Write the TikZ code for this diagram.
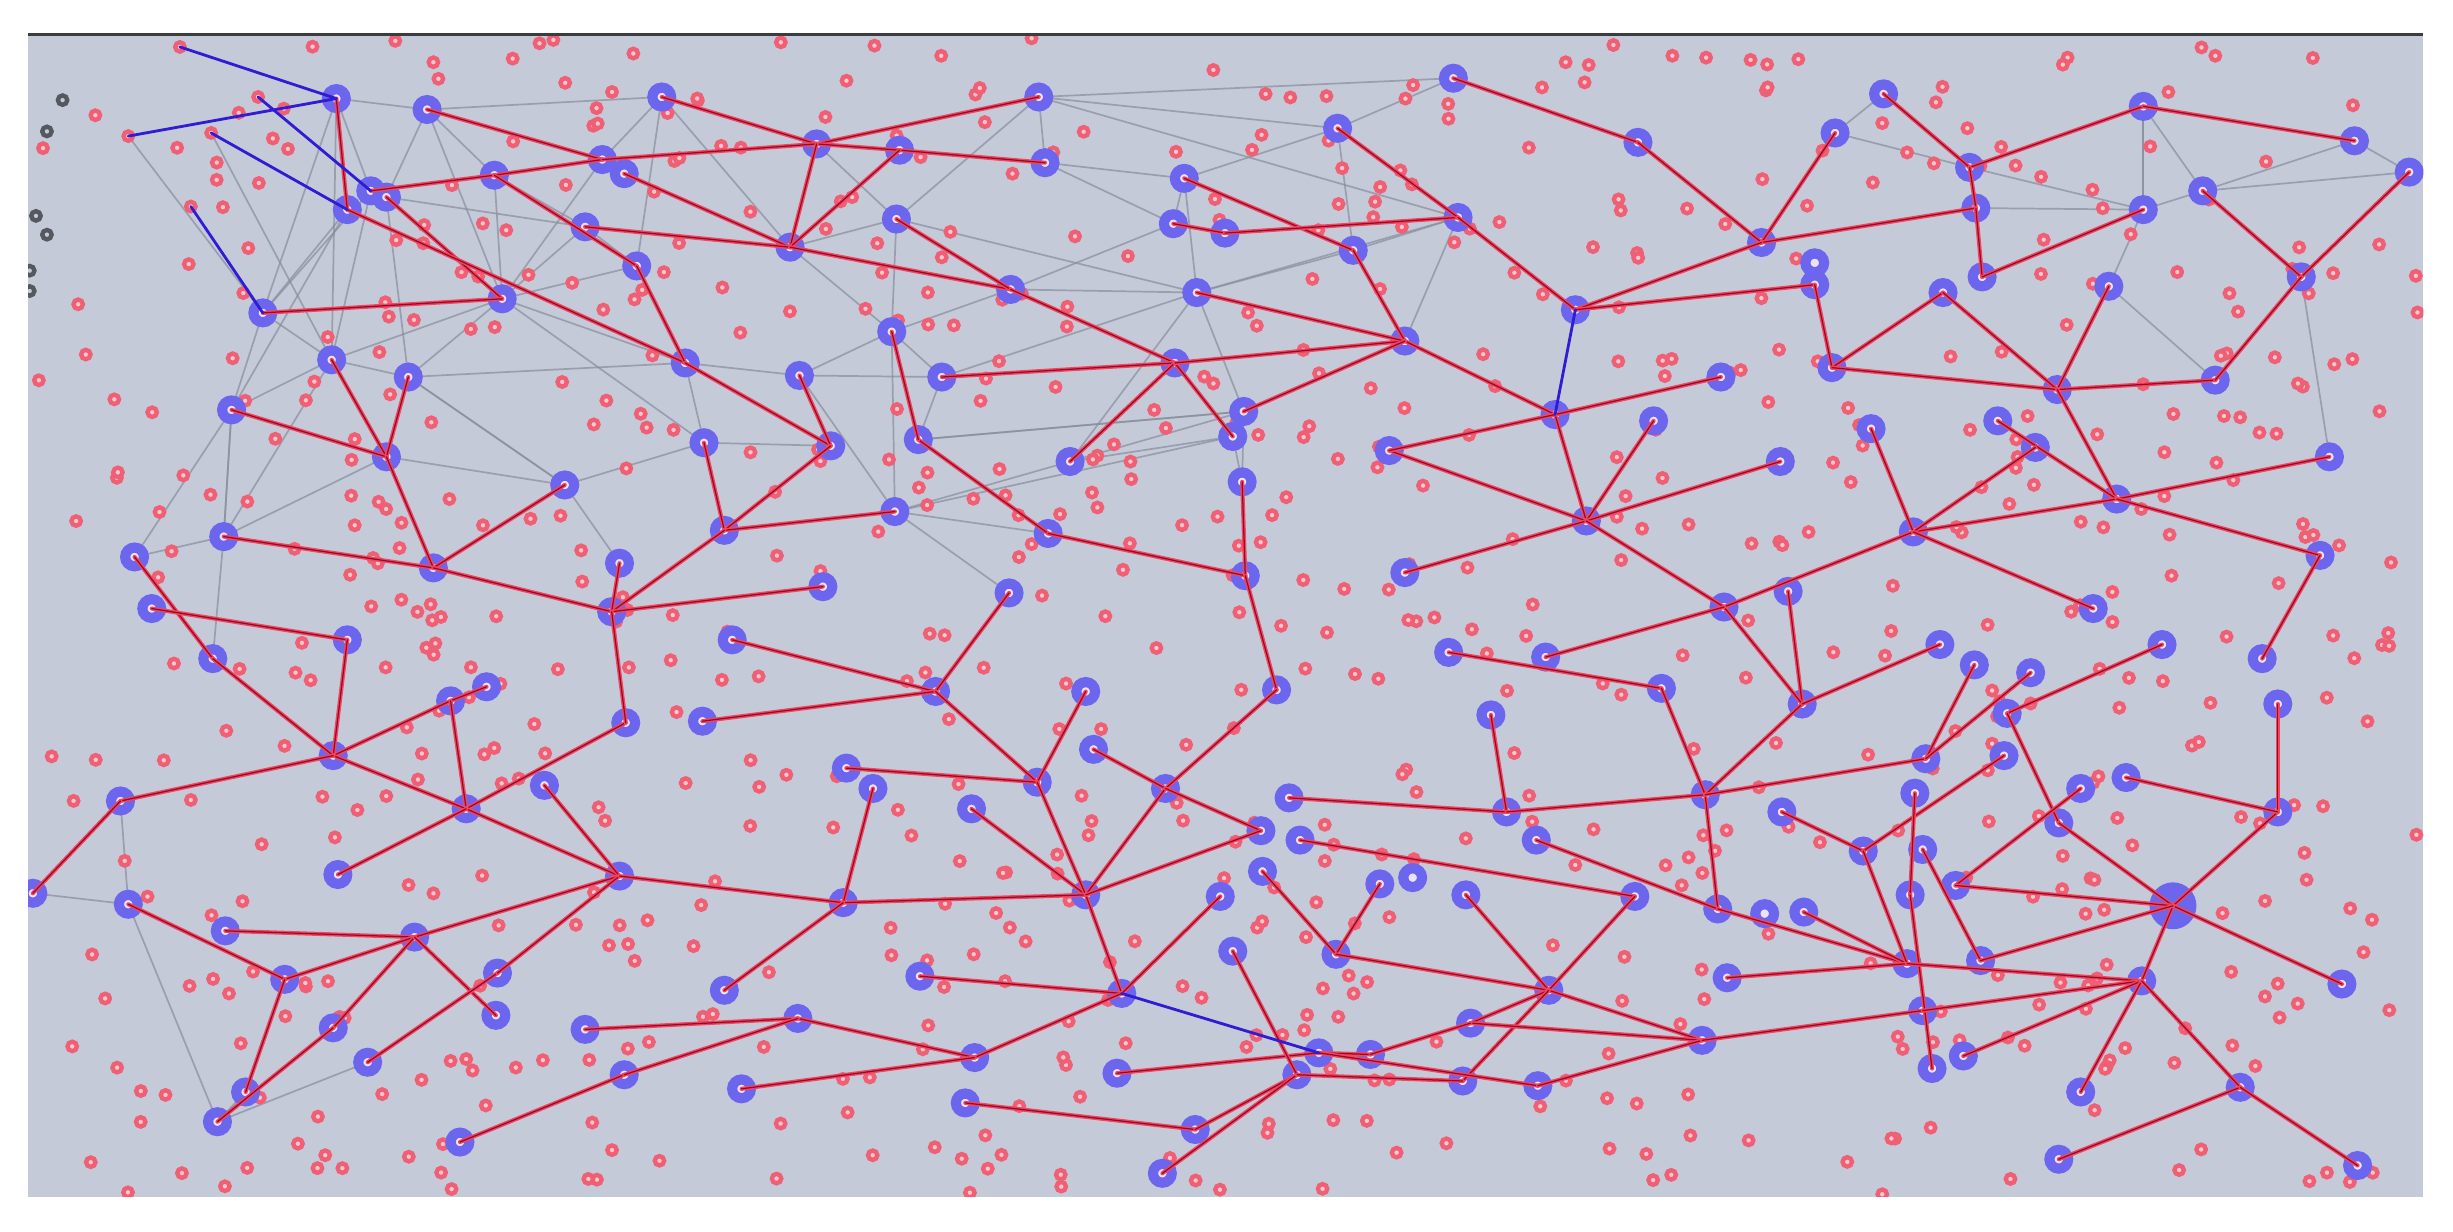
\documentclass[tikz,border=0pt]{standalone}
\pgfdeclarelayer{bglayer}
\pgfdeclarelayer{midlayer}
\pgfsetlayers{bglayer,midlayer,main}
\definecolor{bgcol}{RGB}{197,202,217}
\definecolor{ringblue}{RGB}{108,102,238}
\definecolor{coreblue}{RGB}{236,226,244}
\definecolor{dotred}{RGB}{240,96,116}
\definecolor{dotcore}{RGB}{248,200,208}
\definecolor{edgeout}{RGB}{240,70,96}
\definecolor{edgein}{RGB}{150,10,40}
\definecolor{grayedge}{RGB}{135,142,156}
\definecolor{blueedge}{RGB}{48,28,210}
\definecolor{darkdot}{RGB}{85,88,95}
\definecolor{topline}{RGB}{60,60,62}
\tikzset{
  bnode/.style={circle, draw=ringblue, fill=coreblue, line width=6.5mm, minimum size=12mm, inner sep=0pt, outer sep=0pt},
  bignode/.style={circle, fill=ringblue, minimum size=30mm, inner sep=0pt, outer sep=0pt},
  rnode/.style={circle, draw=dotred, fill=dotcore, line width=2.8mm, minimum size=6mm, inner sep=0pt, outer sep=0pt},
  rdot/.style={draw=dotred, fill=dotcore, line width=2.8mm},
  gdot/.style={draw=darkdot, fill=bgcol, line width=2.8mm},
  redge/.style={draw=edgeout, line width=2.6mm, line cap=round, postaction={draw=edgein, line width=0.8mm}},
  grayline/.style={draw=grayedge, line width=1.1mm, opacity=0.7},
  blueline/.style={draw=blueedge, line width=1.8mm, line cap=round}
}
\begin{document}
\begin{tikzpicture}[x=1mm,y=-1mm]
\useasboundingbox (0,0) rectangle (1568,787);
\begin{pgfonlayer}{bglayer}
\fill[white] (0,0) rectangle (1568,787);
\fill[bgcol] (18,22) rectangle (1549,765);
\end{pgfonlayer}
% ---------- nodes ----------
\begin{scope}
\clip (18,22) rectangle (1549,765);
\foreach \n/\x/\y in {
a1/215/63, a2/273/70, a3/316/112, a4/385/102, a4b/399/111, a5/237/122, a5b/247/126, a6/222/134, a7/374/145, a8/168/200, a9/321/191, a10/212/230, a11/261/241, a12/148/262, a13/247/292, a14/361/310, a15/143/343, a16/86/356, a17/277/363, a18/97/389,
b1/423/62, b2/522/92, b3/575/96, b4/664/62, b5/668/104, b6/757/114, b7/750/143, b7b/783/149, b9/505/158, b10/573/140, b11/407/170, b12/646/185, b13/765/187, b14/570/212, b15/438/232, b16/511/240, b17/602/241, b18/751/232, b19/450/283, b20/531/285, b21/587/281, b22/684/295, b23/572/327, b24/463/339, b25/670/341, b26/396/360, b27/526/375, b28/645/379, b29/391/391,
c1/929/50, c2/855/82, c3/1047/91, c4/932/139, c6/865/160, c7/1126/155, c9/1160/168, c9b/1160/182, c10/1007/198, c11/898/218, c12/795/263, c13/788/279, c14/1100/241, c15/994/265, c16/1057/269, c17/888/288, c18/1138/295, c19/794/308, c20/1014/333, c21/898/366, c22/796/368, c23/1102/388, c24/1143/378,
d1/1204/60, d2/1173/85, d3/1370/68, d4/1505/90, d5/1540/110, d6/1259/107, d7/1263/133, d8/1370/134, d9/1408/122, d11/1267/177, d12/1242/187, d13/1348/183, d14/1471/177, d15/1171/235, d16/1315/249, d17/1416/243, d18/1196/274, d19/1277/269, d20/1301/286, d21/1489/292, d22/1353/319, d23/1223/340, d24/1483/355, d25/1338/389,
g2/222/409, g3/136/421, g4/311/439, g4b/288/448, g5/213/483, g6/77/512, g7/298/517, g8/348/502, g10/216/559, g12/21/571, g13/82/578, g14/144/595, g15/265/599, g16/182/626, g17/318/622, g18/317/649, g19/213/657, g20/374/658, g21/235/679, g22/157/698, g24/139/717, g25/294/730,
h2/468/409, h3/598/442, h4/694/442, h5/400/462, h6/449/461, h7/699/479, h8/541/491, h9/558/504, h10/621/517, h11/663/500, h12/745/504, h13/396/560, h14/539/577, h15/694/572, h16/780/573, h17/588/624, h18/463/633, h19/717/635, h20/510/651, h21/623/676, h22/399/687, h23/474/696, h24/714/686, h25/617/705, h26/764/722, h27/743/750,
k1/816/441, k2/926/417, k3/988/420, k4/1062/440, k6/1152/450, k7/953/457, k8/824/510, k9/963/519, k10/1090/508, k11/806/531, k11b/831/537, k12/1139/519, k13/982/537, k14/807/557, k16/882/565, k16b/903/561, k17/937/572, k18/1045/573, k19/1098/581, k20/1128/584, k20b/1153/583, k21/788/608, k22/854/610, k23/1104/625, k24/990/633, k25/940/654, k26/1088/665, k27/843/673, k27b/876/674, k28/829/687, k29/935/691, k30/983/694,
m2/1240/412, m3/1382/412, m4/1446/421, m5/1262/425, m6/1298/430, m7/1283/456, m8/1456/450, m9/1231/485, m10/1281/483, m11/1224/507, m12/1330/504, m13/1359/497, m14/1456/519, m15/1316/526, m16/1191/544, m17/1229/543, m18/1250/566, m19/1221/572, m22/1219/616, m23/1266/614, m24/1369/627, m25/1229/646, m26/1497/629, m27/1255/675, m27b/1235/683, m28/1330/698, m29/1432/695, m30/1316/741, m31/1507/745}
  {\node[bnode] (\n) at (\x,\y) {};}
\node[bignode] (m20) at (1389,579) {};
\foreach \n/\x/\y in {e1/115/30, e2/82/87, e3/165/62, e4/135/85, e5/122/132}
  {\node[rnode] (\n) at (\x,\y) {};}
\end{scope}
% ---------- gray mesh and scattered points ----------
\begin{pgfonlayer}{midlayer}
\begin{scope}
\clip (18,22) rectangle (1549,765);
\foreach \u/\v in {a1/a2, a1/a5, a1/a10, a2/b1, a2/a5b, a2/a3, a5/a8, a6/a8, a8/a12, a8/a10, a5/a10, a5b/a11, a10/a11, a10/a9, a11/a9, a12/a10, a12/a16, a3/a9, a7/a9, a9/b15, a11/b15, b1/b9, b1/a4, b2/b10, b10/b14, b14/b23, b14/b17, b16/b17, b17/b21, b12/b14, b13/b17, b13/b6, b6/b7, b7/b12, b12/b13, b13/c12, b13/b22, b23/b25, b19/b15, b5/b6, b4/b5, c1/c2, c1/b4, c2/c6, c6/c4, c12/b21, c13/b23, c12/c19, c13/b22, d1/d2, d6/d8, d8/d3, d8/d9, d9/d5, d8/d13, g24/g22, g24/g21, a14/a11, a15/a12, a16/a15, a15/a13, e2/a8, e4/a10, a6/a12, b11/a9, b19/a14, b16/b14, c4/b13, c2/b6, b4/c4, d3/d9, d14/d21, g13/g24, g3/a15,
a1/a8, a2/a9, a4/a9, b1/b11, b9/b14, b15/b16, b19/b20, b16/b23, b21/c12, b22/b23, b23/b28, c6/b13, c4/c11, c2/b4, a12/a15, a13/a14, a9/b19, a11/a14, b26/a14, a7/a3, a7/b11, b9/b10, b4/b10, c13/c19, c12/b22, d2/d6, d3/d8, d7/d8, d9/d4, d13/d17, d4/d5, g12/g13, g6/g13, a5b/a7, b5/b7, b10/b13, a10/a15}
  {\draw[grayline] (\u.center) -- (\v.center);}
\pgfmathsetseed{2024}
\foreach \i in {1,...,780}{
  \pgfmathsetmacro{\rx}{20+1527*rnd}
  \pgfmathsetmacro{\ry}{24+740*rnd}
  \draw[rdot] (\rx,\ry) circle[radius=3mm];
}
\foreach \x/\y in {40/64, 30/84, 23/138, 30/150, 19/173, 19/186}
  {\draw[gdot] (\x,\y) circle[radius=3mm];}
\end{scope}
\end{pgfonlayer}
% ---------- red and blue connectors ----------
\begin{scope}
\clip (18,22) rectangle (1549,765);
\foreach \u/\v in {
a1/a6, a2/a4, a5/a3, a3/a4, a3/b11, a5b/a9, a6/b15, a8/a9, a10/a13, a11/a13, a12/a13, a13/a17, a17/a14, a15/a17, a17/b29, a16/g3, a18/g2,
b1/b2, b2/b4, b2/b3, b3/b5, a4/b2, b2/b9, b3/b9, a4b/b9, a7/b9, b9/b12, b10/b12, b12/b18, b11/b15, b15/b20, b16/b20, b19/b24, b20/b24, b24/b23, b24/b29, b26/b29, b29/b27, b21/b25, b14/b21, b25/c22, b17/b18, b18/b22, b18/c13, b18/c11, b6/c6, b7/b7b, b7b/c4, b28/h3,
c1/c3, c2/c4, c3/c7, c7/d2, c7/d7, c6/c11, c4/c10, c10/c7, c10/c9b, c15/c11, c15/c14, c15/c20, c16/c20, c17/c20, c17/c15, c20/c18, c20/c21, c20/c23, b13/c11, c11/c12, c19/c22, c22/k1, c23/d23, c24/k6, c23/k6,
d1/d6, d6/d3, d3/d4, d6/d7, d7/d11, d8/d11, d12/d15, d12/d16, d13/d16, c9b/d15, d15/d16, d16/d17, d9/d14, d5/d14, d14/d17, d16/d22, d19/d22, d22/d21, d22/d23, d20/d23, d18/d23, d22/d24, d23/d25, d24/m4,
g2/g5, g3/g5, g5/g4b, g4b/g4, g4b/g7, g5/g7, g5/g6, g6/g12, g7/h5, g7/h13, g8/h13, g10/g7, g13/g16, g14/g15, g16/g15, g15/h13, g15/g19, g15/g18, g16/g22, g19/g24, g17/g21, h13/g17, g25/h22, g20/h20,
b29/h5, h2/h3, h6/h3, h3/h11, h4/h11, h8/h11, h9/h14, h10/h15, h11/h15, h7/h12, h12/h15, h12/k1, h12/k11, h13/h14, h14/h15, h14/h18, h15/h19, h17/h19, h16/h19, h19/h21, h20/h21, h22/h20, h23/h21, h24/k27, h25/h26, h26/k28, h27/k28, h15/k11,
k2/k4, k3/c23, k4/k10, k7/k9, k8/k9, k9/k10, k10/k19, k10/k6, k10/m9, k11b/k18, k13/k19, k14/k22, k16/k22, k17/k24, k18/k24, k21/k28, k22/k24, k24/k26, k24/k25, k24/k29, k25/k26, k27/k27b, k27b/k25, k27/k30, k28/k29, k30/k26, k26/m25, k12/m16, k19/m22, k20b/m22, k23/m22,
m2/k6, m5/m9, m6/m9, m3/m7, m7/m15, m15/m20, m8/m14, m10/m16, m16/m22, m11/m19, m19/m27b, m17/m23, m12/m18, m18/m20, m20/m14, m14/m13, m20/m26, m20/m24, m20/m23, m24/m22, m24/m25, m24/m27, m24/m28, m24/m29, m29/m30, m29/m31}
  {\draw[redge] (\u.center) -- (\v.center);}
\foreach \u/\v in {e1/a1, e2/a1, e3/a5, e4/a6, e5/a8, c10/c15, h19/k27}
  {\draw[blueline] (\u.center) -- (\v.center);}
\end{scope}
\draw[topline, line width=2mm] (18,22) -- (1549,22);
\end{tikzpicture}
\end{document}
